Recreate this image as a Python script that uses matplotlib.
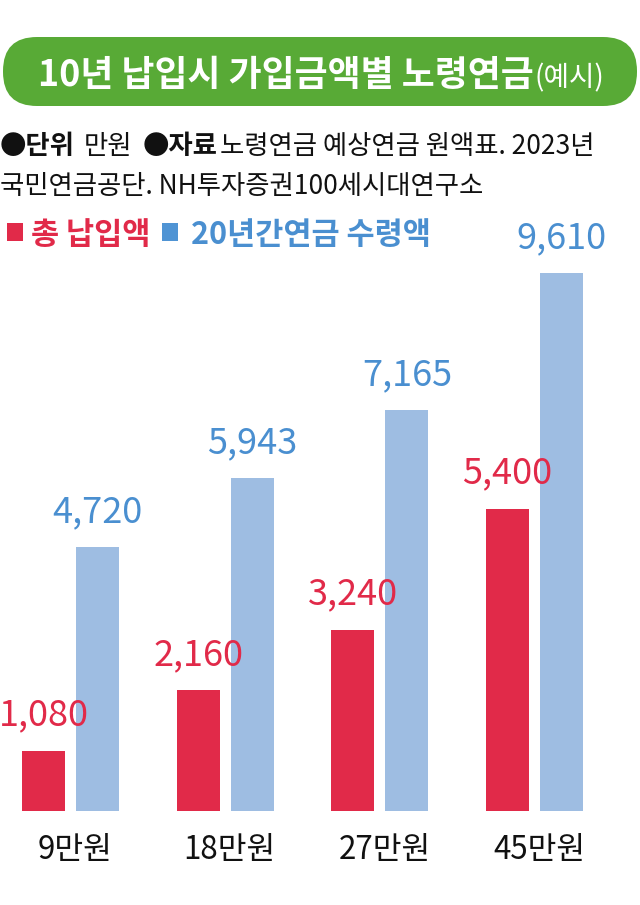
import matplotlib
matplotlib.use("Agg")
import matplotlib.pyplot as plt
from matplotlib.patches import FancyBboxPatch, Rectangle
import numpy as np

plt.rcParams['font.family'] = ['Noto Sans CJK KR', 'DejaVu Sans']

# ---- data ----
categories = ["9만원", "18만원", "27만원", "45만원"]
total_paid = [1080, 2160, 3240, 5400]
pension_20y = [4720, 5943, 7165, 9610]
series_names = ["총 납입액", "20년간연금 수령액"]

title_main = "10년 납입시 가입금액별 노령연금"
title_sub = "(예시)"
unit_label = "●단위"
unit_value = "만원"
source_label = "●자료"
source_line1 = "노령연금 예상연금 원액표. 2023년"
source_line2 = "국민연금공단. NH투자증권100세시대연구소"

RED = "#e12a49"
BLUE_BAR = "#9ebde2"
BLUE_TXT = "#4a8fd0"
GREEN = "#58aa36"

W, H = 640, 905
fig = plt.figure(figsize=(W / 100, H / 100), dpi=100)
fig.patch.set_facecolor("white")

# overlay axes in pixel coordinates (y downwards)
ov = fig.add_axes([0, 0, 1, 1], zorder=0)
ov.set_xlim(0, W)
ov.set_ylim(H, 0)
ov.axis("off")

# title pill
ov.add_patch(FancyBboxPatch((3, 37), 634, 69,
                            boxstyle="round,pad=0,rounding_size=34",
                            fc=GREEN, ec="none"))
t1 = ov.text(38, 86, title_main, color="white", fontsize=25.8,
             fontweight="bold", va="baseline", ha="left")
fig.canvas.draw()
r = fig.canvas.get_renderer()
bb = t1.get_window_extent(renderer=r)
x_end = bb.x1 * W / fig.bbox.width
ov.text(x_end + 1, 86, title_sub, color="white", fontsize=20,
        va="baseline", ha="left")

# unit / source lines
fs_src = 19
ov.text(0, 154, unit_label, fontsize=fs_src, fontweight="bold", color="#111111", va="baseline")
ov.text(84, 154, unit_value, fontsize=fs_src, color="#111111", va="baseline")
ov.text(143, 154, source_label, fontsize=fs_src, fontweight="bold", color="#111111", va="baseline")
ov.text(220, 154, source_line1, fontsize=fs_src, color="#111111", va="baseline")
ov.text(0, 194, source_line2, fontsize=fs_src, color="#111111", va="baseline")

# legend
ov.add_patch(Rectangle((7, 223), 16, 18, fc=RED, ec="none"))
ov.text(31, 244, series_names[0], fontsize=22, fontweight="bold", color=RED, va="baseline")
ov.add_patch(Rectangle((162, 223), 16, 18, fc="#4f94d4", ec="none"))
ov.text(191, 244, series_names[1], fontsize=22, fontweight="bold", color=BLUE_TXT, va="baseline")

# ---- bar chart ----
spacing = 154.67
left_px = 70.5 - 0.4 * spacing
ax_w = 4 * spacing
bottom_px = H - 811
top_px = 220
ax_h = H - top_px - bottom_px
ax = fig.add_axes([left_px / W, bottom_px / H, ax_w / W, ax_h / H], zorder=1)
ax.patch.set_alpha(0)
ax.set_xlim(-0.4, 3.6)
ax.set_ylim(0, ax_h / 0.05598)

x = np.arange(len(categories))
bw = 43 / spacing
off = 27 / spacing
ax.bar(x - off, total_paid, width=bw, color=RED, linewidth=0)
ax.bar(x + off, pension_20y, width=bw, color=BLUE_BAR, linewidth=0)

for xi, v in zip(x - off, total_paid):
    ax.annotate(f"{v:,}", xy=(xi, v), xytext=(0, 25), textcoords="offset pixels",
                ha="center", va="baseline", fontsize=26, color=RED)
for xi, v in zip(x + off, pension_20y):
    ax.annotate(f"{v:,}", xy=(xi, v), xytext=(0, 25), textcoords="offset pixels",
                ha="center", va="baseline", fontsize=26, color=BLUE_TXT)

ax.set_xticks(x + 0.03, labels=categories)
ax.tick_params(axis="x", length=0, pad=48 * 0.72, labelsize=22.5, labelcolor="#111111")
for lbl in ax.get_xticklabels():
    lbl.set_va("baseline")
ax.set_yticks([])
for s in ax.spines.values():
    s.set_visible(False)

fig.savefig("out.png", dpi=100, facecolor="white")
